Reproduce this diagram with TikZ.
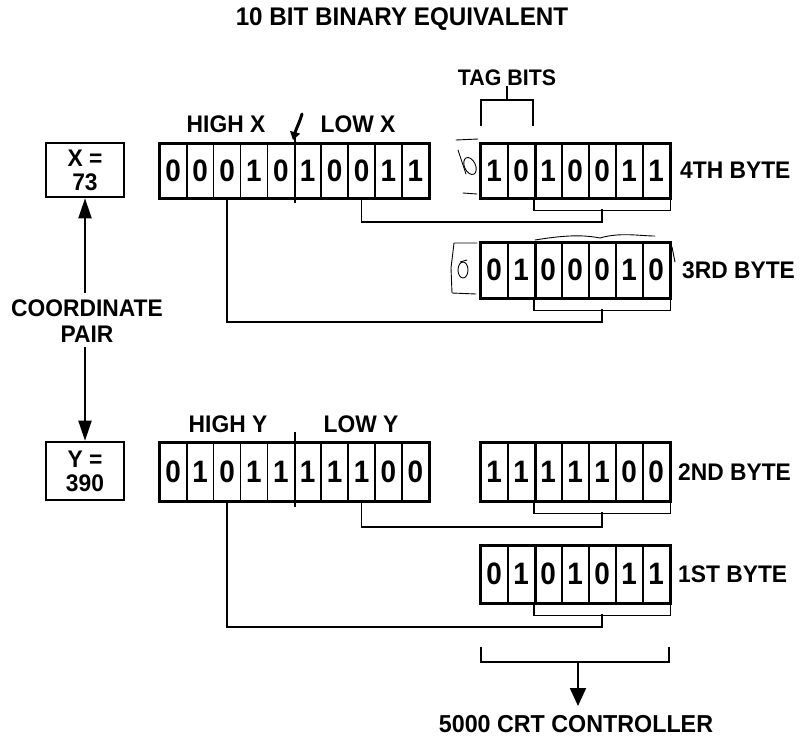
\documentclass[tikz,border=0pt]{standalone}
\usepackage{fontspec}
\setmainfont{Liberation Sans}
\newfontfamily\labfont{Liberation Sans}[FakeStretch=0.95]
\newfontfamily\digfont{Liberation Sans}[FakeStretch=0.9]
\usetikzlibrary{arrows.meta}
\begin{document}
\begin{tikzpicture}[x=1pt,y=-1pt,
  lbl/.style={font=\labfont\bfseries\fontsize{24}{24}\selectfont, inner sep=0},
  cell/.style={draw, line width=1.5pt, minimum width=27pt, inner sep=0, anchor=north west,
     font=\digfont\bfseries\fontsize{31}{31}\selectfont},
  frame/.style={line width=2.6pt},
  conn/.style={line width=1.5pt},
  brk/.style={line width=1.5pt},
  valbox/.style={draw, line width=2.6pt, minimum width=78pt, align=center, inner sep=0,
     font=\labfont\bfseries\fontsize{24}{24}\selectfont},
  arr/.style={line width=2pt, -{Triangle[length=20pt,width=13pt]}},
  hand/.style={line width=0.9pt, line cap=round, line join=round}
]
\useasboundingbox (0,0) rectangle (806,737);

% title
\node[lbl, font=\labfont\bfseries\fontsize{25.5}{25.5}\selectfont] (title) at (402,19) {10 BIT BINARY EQUIVALENT};

% value boxes
\node[valbox, minimum height=54pt] (xbox) at (85,170) {X =\\73};
\node[valbox, minimum height=58pt] (ybox) at (85,471) {Y =\\390};
\node[lbl] (coord) at (87,308) {COORDINATE};
\node[lbl] (pair) at (87,334) {PAIR};
\coordinate (cpup) at (85,293);
\coordinate (cpdn) at (85,347);
\draw[arr] (cpup) -- (xbox.south);
\draw[arr] (cpdn) -- (ybox.north);

% X register
\foreach \b [count=\i] in {0,0,0,1,0,1,0,0,1,1}
  \node[cell, minimum height=54pt] (x\i) at ({159+(\i-1)*26.9},143) {\b};
\draw[frame] (x1.north west) rectangle (x10.south east);
\draw[line width=2pt] (x5.north east) ++(0,-8) -- ++(0,68);
\node[lbl] (highx) at (226,124) {HIGH X};
\node[lbl] (lowx) at (358,124) {LOW X};

% Y register
\foreach \b [count=\i] in {0,1,0,1,1,1,1,1,0,0}
  \node[cell, minimum height=58pt] (y\i) at ({159+(\i-1)*26.9},442) {\b};
\draw[frame] (y1.north west) rectangle (y10.south east);
\draw[line width=2pt] (y5.north east) ++(0,-10) -- ++(0,75);
\node[lbl] (highy) at (228,424) {HIGH Y};
\node[lbl] (lowy) at (361,424) {LOW Y};

% bytes
\foreach \b [count=\i] in {1,0,1,0,0,1,1}
  \node[cell, minimum height=54pt] (d\i) at ({480+(\i-1)*27},143) {\b};
\foreach \b [count=\i] in {0,1,0,0,0,1,0}
  \node[cell, minimum height=55pt] (c\i) at ({480+(\i-1)*27},242) {\b};
\foreach \b [count=\i] in {1,1,1,1,1,0,0}
  \node[cell, minimum height=58pt] (b\i) at ({480+(\i-1)*27},442) {\b};
\foreach \b [count=\i] in {0,1,0,1,0,1,1}
  \node[cell, minimum height=57pt] (a\i) at ({480+(\i-1)*27},545) {\b};
\foreach \r in {d,c,b,a}{
  \draw[frame] (\r1.north west) rectangle (\r7.south east);
  \draw[line width=2.4pt] (\r2.north east) -- (\r2.south east);
  \draw[brk] (\r3.south west) -- ++(0,12) -| (\r7.south east);
}
\node[lbl, anchor=west] (l4) at (680,170) {4TH BYTE};
\node[lbl, anchor=west] (l3) at (682,270) {3RD BYTE};
\node[lbl, anchor=west] (l2) at (678,472) {2ND BYTE};
\node[lbl, anchor=west] (l1) at (678,574) {1ST BYTE};

% tag bits
\node[lbl, font=\labfont\bfseries\fontsize{22.5}{22.5}\selectfont] (tag) at (507,78) {TAG BITS};
\draw[line width=2.4pt] (481,126) -- (481,100) -- (533,100) -- (533,126);
\draw[line width=2.4pt] (507,100) -- (tag.south);

% connectors
\coordinate (d4br) at (602,209); \coordinate (d4lo) at (602,222);
\coordinate (c3br) at (602,309); \coordinate (c3lo) at (602,322);
\coordinate (b2br) at (602,512); \coordinate (b2lo) at (602,527);
\coordinate (a1br) at (602,614); \coordinate (a1lo) at (602,627);
\draw[conn] (x8.south) |- (d4lo) -- (d4br);
\draw[conn] (x3.south) |- (c3lo) -- (c3br);
\draw[conn] (y8.south) |- (b2lo) -- (b2br);
\draw[conn] (y3.south) |- (a1lo) -- (a1br);

% controller
\node[lbl, font=\labfont\bfseries\fontsize{24.5}{24.5}\selectfont] (crt) at (576,724) {5000 CRT CONTROLLER};
\draw[line width=2.2pt] (481,647) -- (481,662) -- (669,662) -- (669,647);
\coordinate (crtarr) at (578,662);
\draw[line width=2pt, -{Triangle[length=18pt,width=16pt]}] (crtarr) -- (578,706);

% handwritten marks
\draw[hand, line width=3pt, -{Triangle[length=8pt,width=10pt]}] (302,114) .. controls (299,124) and (296,129) .. (293,140);
\draw[hand] (470,166) ellipse [x radius=5.5pt, y radius=9pt, rotate=25];
\draw[hand] (466,174) -- (458,150);
\draw[hand] (456,140) -- (478,139);
\draw[hand] (463,193) -- (477,194);
\draw[hand] (477,243) -- (454,243) -- (451,268) -- (452,293) -- (476,294);
\draw[hand] (463,270) ellipse [x radius=5pt, y radius=8pt];
\draw[hand] (460,262) -- (467,260);
\draw[hand] (535,240) .. controls (560,236) and (580,234) .. (600,238) .. controls (620,232) and (640,236) .. (655,236);
\draw[hand] (672,247) -- (675,262);
\end{tikzpicture}
\end{document}
